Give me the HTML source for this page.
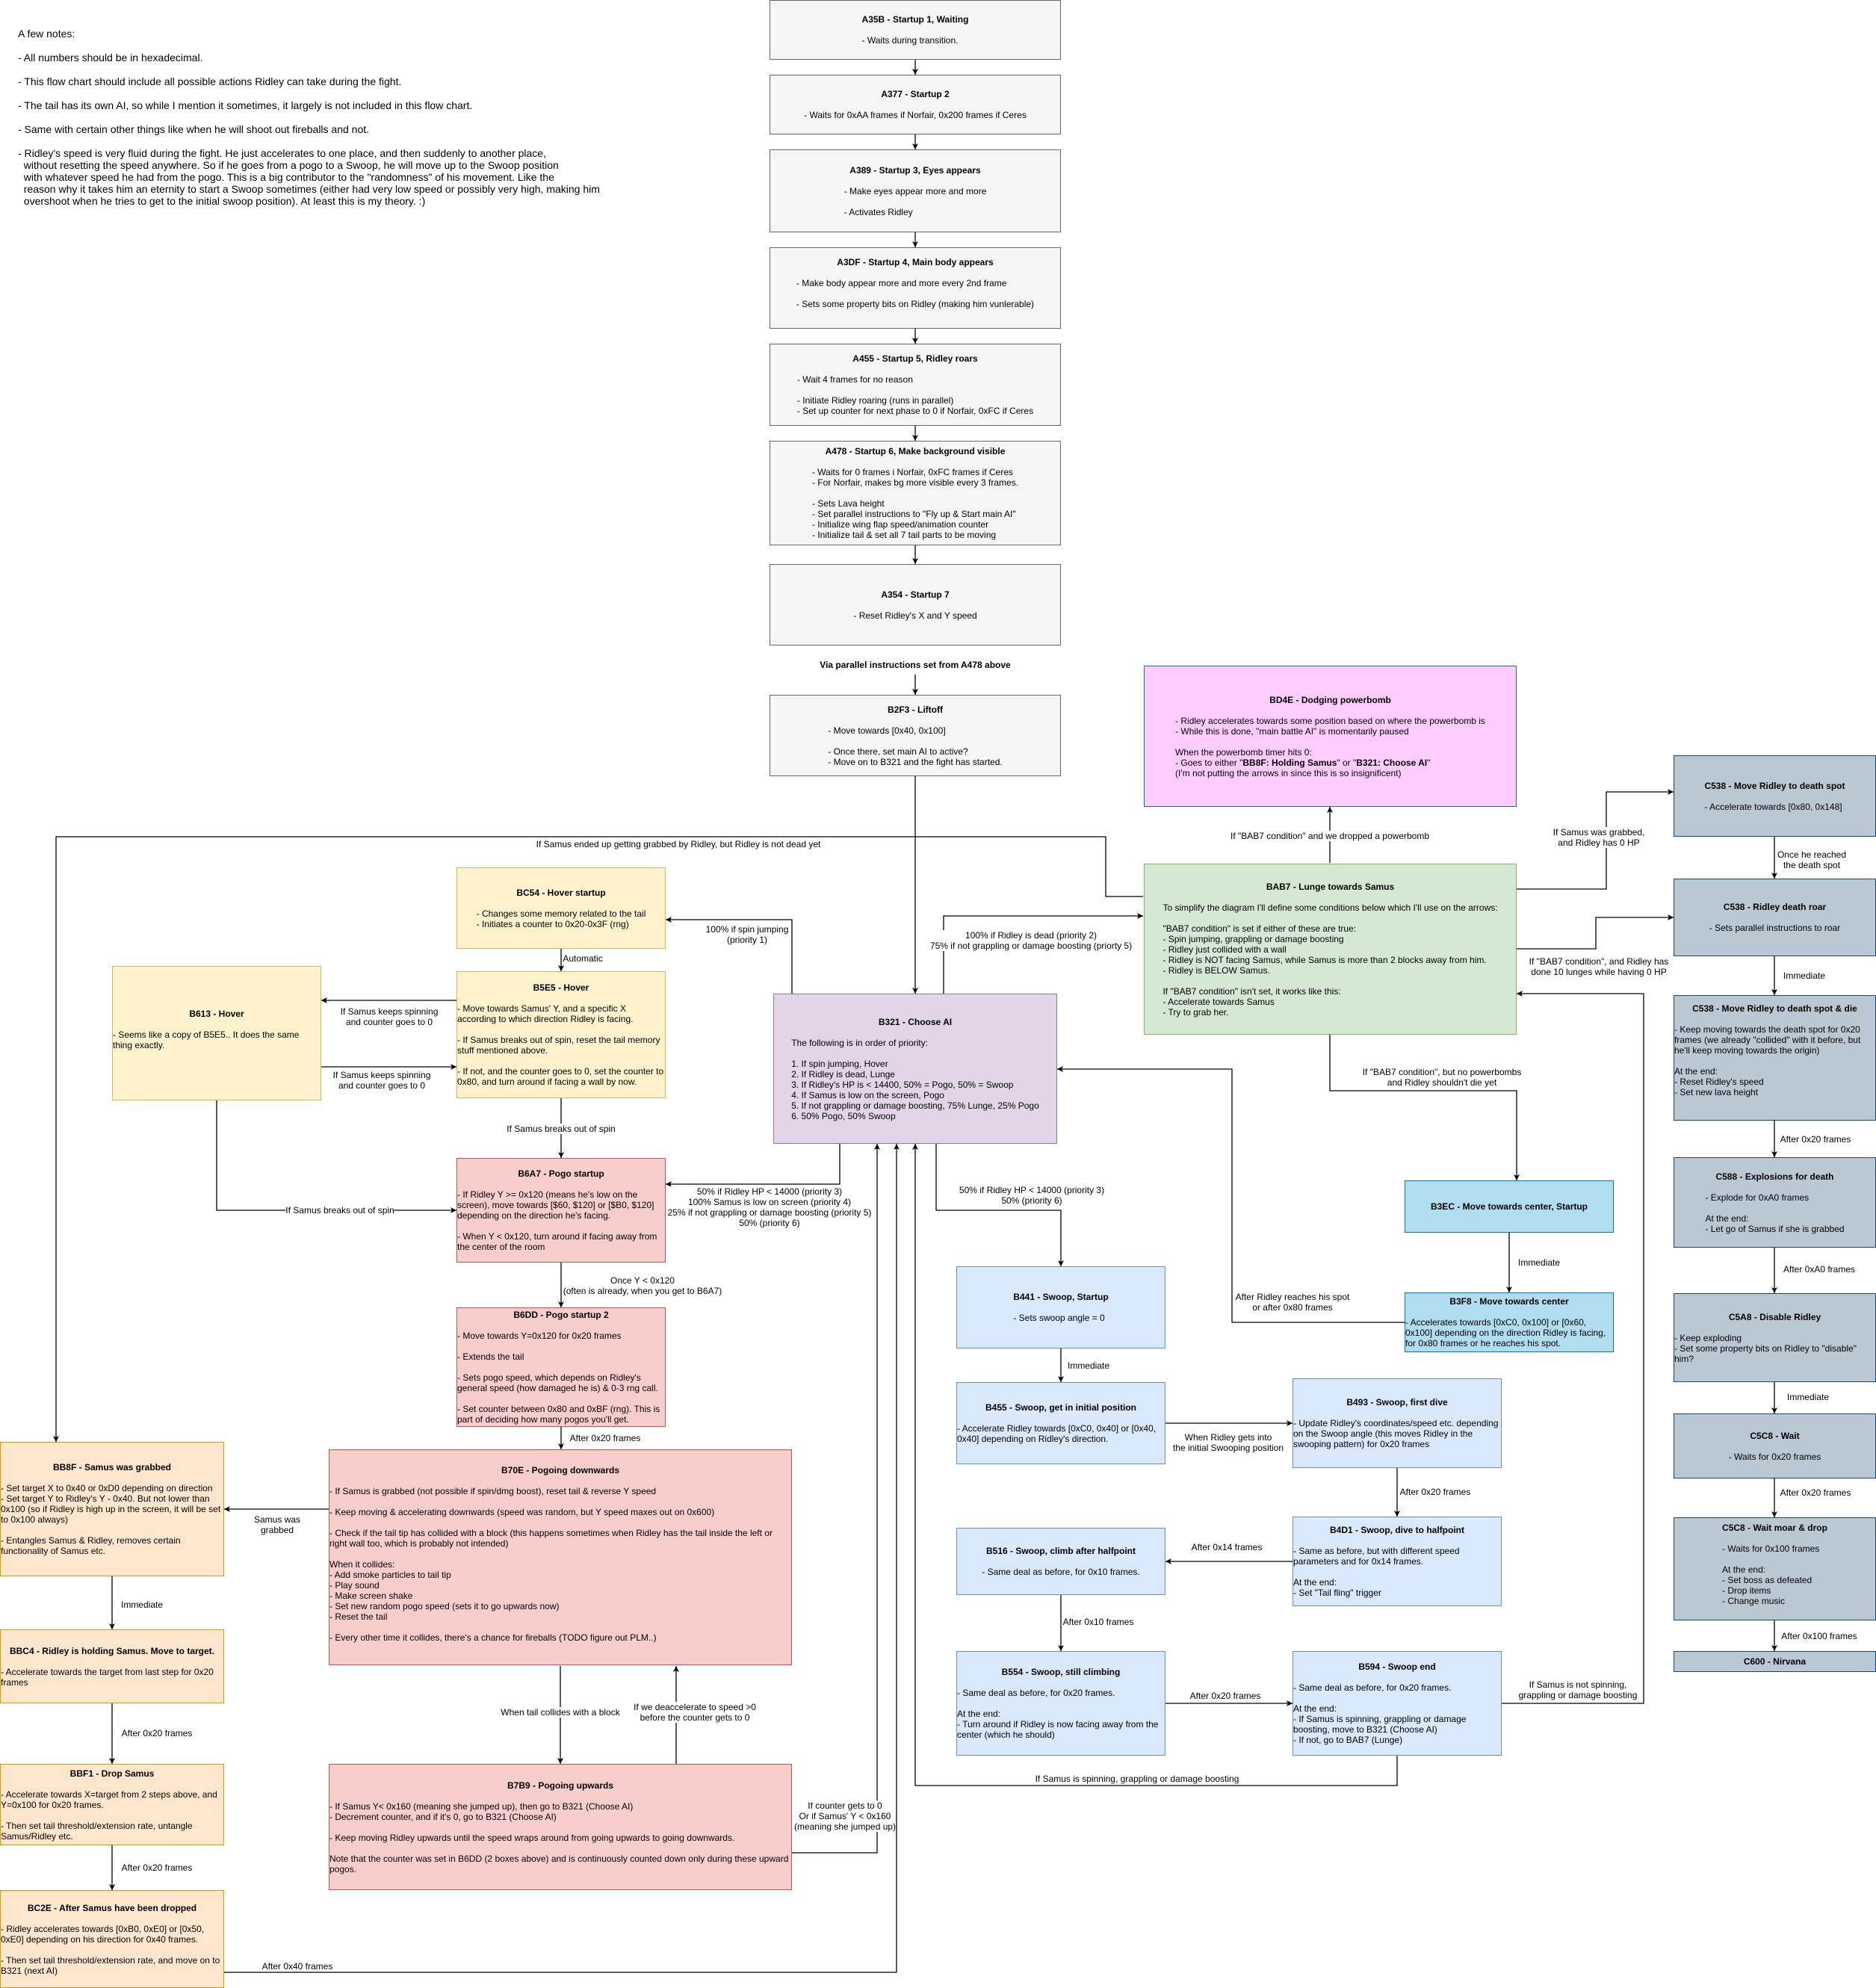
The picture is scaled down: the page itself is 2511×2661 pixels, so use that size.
<!DOCTYPE html>
<html><head><meta charset="utf-8">
<style>
html,body{margin:0;padding:0;background:#fff;}
body{width:2511px;height:2661px;position:relative;overflow:hidden;font-family:"Liberation Sans",Arial,sans-serif;font-size:12px;line-height:14px;color:#000;}
.b{position:absolute;box-sizing:border-box;border:1px solid #666;display:flex;align-items:center;justify-content:center;overflow:hidden;}
.b>div{display:inline-block;text-align:left;white-space:pre-wrap;max-width:100%;}
.b .t{font-weight:bold;text-align:center;display:block;}
.g{background:#f5f5f5;border-color:#666;}
.y{background:#fff2cc;border-color:#d6b656;}
.r{background:#f8cecc;border-color:#b85450;}
.p{background:#e1d5e7;border-color:#9673a6;}
.gr{background:#d5e8d4;border-color:#82b366;}
.bl{background:#dae8fc;border-color:#6c8ebf;}
.pk{background:#ffccff;border-color:#10739e;}
.cy{background:#b1ddf0;border-color:#10739e;}
.sl{background:#bac8d3;border-color:#23445d;}
.o{background:#ffe6cc;border-color:#d79b00;}
.l{position:absolute;transform:translate(-50%,-50%);background:#fff;white-space:pre;text-align:center;font-size:12px;line-height:14px;}
svg{position:absolute;left:0;top:0;}
</style></head><body>
<svg width="2511" height="2661" viewBox="0 0 2511 2661">
<defs><marker id="a" markerWidth="10" markerHeight="10" refX="9" refY="5" orient="auto" markerUnits="userSpaceOnUse"><path d="M1,1 L9,5 L1,9 L3,5 z" fill="#000"/></marker></defs>
<g fill="none" stroke="#000" stroke-width="1.3" marker-end="url(#a)">
<path d="M1225,80V100"/><path d="M1225,180V200"/><path d="M1225,311V331"/><path d="M1225,440V460"/><path d="M1225,570V590"/><path d="M1225,730V755"/><path d="M1225,903V930"/>
<path d="M1225,1039V1330"/>
<path d="M1530,1200H1480V1120H75V1930"/>
<path d="M1263,1330V1226H1530"/>
<path d="M1060,1330V1231H891"/>
<path d="M751,1270V1300"/>
<path d="M611,1339H430"/>
<path d="M430,1428H611"/>
<path d="M751,1470V1550"/>
<path d="M290,1473V1620H611"/>
<path d="M1124,1531V1585H891"/>
<path d="M751,1690V1750"/>
<path d="M751,1910V1940"/>
<path d="M440,2020H300"/>
<path d="M150,2110V2181"/><path d="M150,2280V2361"/><path d="M150,2470V2530"/>
<path d="M300,2640H1200V1531"/>
<path d="M750,2230V2361"/>
<path d="M905,2361V2230"/>
<path d="M1060,2480H1174V1531"/>
<path d="M1253,1531V1620H1420V1695"/>
<path d="M1420,1805V1850"/>
<path d="M1560,1905H1730"/>
<path d="M1870,1965V2030"/>
<path d="M1730,2090H1560"/>
<path d="M1420,2135V2210"/>
<path d="M1560,2280H1730"/>
<path d="M1870,2350V2390H1225V1531"/>
<path d="M2010,2280H2200V1330H2030"/>
<path d="M1780,1155V1080"/>
<path d="M2030,1190H2150V1060H2240"/>
<path d="M2030,1270H2136V1228H2240"/>
<path d="M1780,1385V1460H2030V1580"/>
<path d="M2020,1650V1730"/>
<path d="M1880,1770H1649V1431H1415"/>
<path d="M2375,1120V1176"/><path d="M2375,1280V1332"/><path d="M2375,1500V1549"/><path d="M2375,1670V1731"/><path d="M2375,1850V1892"/><path d="M2375,1979V2031"/><path d="M2375,2169V2210"/>
</g></svg>

<div style="position:absolute;left:24px;top:37px;font-size:14px;line-height:16px;white-space:pre;">A few notes:

- All numbers should be in hexadecimal.

- This flow chart should include all possible actions Ridley can take during the fight.

- The tail has its own AI, so while I mention it sometimes, it largely is not included in this flow chart.

- Same with certain other things like when he will shoot out fireballs and not.

- Ridley's speed is very fluid during the fight. He just accelerates to one place, and then suddenly to another place,
  without resetting the speed anywhere. So if he goes from a pogo to a Swoop, he will move up to the Swoop position
  with whatever speed he had from the pogo. This is a big contributor to the "randomness" of his movement. Like the
  reason why it takes him an eternity to start a Swoop sometimes (either had very low speed or possibly very high, making him
  overshoot when he tries to get to the initial swoop position). At least this is my theory. :)</div>

<div class="b g" style="left:1030px;top:0;width:390px;height:80px;"><div><span class="t">A35B - Startup 1, Waiting</span>
- Waits during transition.</div></div>
<div class="b g" style="left:1030px;top:100px;width:390px;height:80px;"><div><span class="t">A377 - Startup 2</span>
- Waits for 0xAA frames if Norfair, 0x200 frames if Ceres</div></div>
<div class="b g" style="left:1030px;top:200px;width:390px;height:111px;"><div><span class="t">A389 - Startup 3, Eyes appears</span>
- Make eyes appear more and more

- Activates Ridley</div></div>
<div class="b g" style="left:1030px;top:331px;width:390px;height:109px;padding-bottom:14px;"><div><span class="t">A3DF - Startup 4, Main body appears</span>
- Make body appear more and more every 2nd frame

- Sets some property bits on Ridley (making him vunlerable)</div></div>
<div class="b g" style="left:1030px;top:460px;width:390px;height:110px;"><div><span class="t">A455 - Startup 5, Ridley roars</span>
- Wait 4 frames for no reason

- Initiate Ridley roaring (runs in parallel)
- Set up counter for next phase to 0 if Norfair, 0xFC if Ceres</div></div>
<div class="b g" style="left:1030px;top:590px;width:390px;height:140px;"><div><span class="t">A478 - Startup 6, Make background visible</span>
- Waits for 0 frames i Norfair, 0xFC frames if Ceres
- For Norfair, makes bg more visible every 3 frames.

- Sets Lava height
- Set parallel instructions to "Fly up &amp; Start main AI"
- Initialize wing flap speed/animation counter
- Initialize tail &amp; set all 7 tail parts to be moving</div></div>
<div class="b g" style="left:1030px;top:755px;width:390px;height:109px;"><div><span class="t">A354 - Startup 7</span>
- Reset Ridley's X and Y speed</div></div>
<div class="l" style="left:1225px;top:890px;font-weight:bold;">Via parallel instructions set from A478 above</div>
<div class="b g" style="left:1030px;top:930px;width:390px;height:109px;"><div><span class="t">B2F3 - Liftoff</span>
- Move towards [0x40, 0x100]

- Once there, set main AI to active?
- Move on to B321 and the fight has started.</div></div>

<div class="b pk" style="left:1531px;top:891px;width:499px;height:189px;"><div><span class="t">BD4E - Dodging powerbomb</span>
- Ridley accelerates towards some position based on where the powerbomb is
- While this is done, "main battle AI" is momentarily paused

When the powerbomb timer hits 0:
- Goes to either "<b>BB8F: Holding Samus</b>" or "<b>B321: Choose AI</b>"
(I'm not putting the arrows in since this is so insignificent)</div></div>
<div class="b gr" style="left:1531px;top:1156px;width:499px;height:229px;"><div><span class="t">BAB7 - Lunge towards Samus</span>
To simplify the diagram I'll define some conditions below which I'll use on the arrows:

"BAB7 condition" is set if either of these are true:
- Spin jumping, grappling or damage boosting
- Ridley just collided with a wall
- Ridley is NOT facing Samus, while Samus is more than 2 blocks away from him.
- Ridley is BELOW Samus.

If "BAB7 condition" isn't set, it works like this:
- Accelerate towards Samus
- Try to grab her.</div></div>

<div class="b sl" style="left:2240px;top:1011px;width:271px;height:109px;"><div><span class="t">C538 - Move Ridley to death spot</span>
- Accelerate towards [0x80, 0x148]</div></div>
<div class="b sl" style="left:2240px;top:1176px;width:271px;height:104px;"><div><span class="t">C538 - Ridley death roar</span>
- Sets parallel instructions to roar</div></div>
<div class="b sl" style="left:2240px;top:1332px;width:271px;height:168px;align-items:flex-start;padding-top:10px;"><div><span class="t">C538 - Move Ridley to death spot &amp; die</span>
- Keep moving towards the death spot for 0x20 frames (we already "collided" with it before, but he'll keep moving towards the origin)

At the end:
- Reset Ridley's speed
- Set new lava height</div></div>
<div class="b sl" style="left:2240px;top:1549px;width:271px;height:121px;"><div><span class="t">C588 - Explosions for death</span>
- Explode for 0xA0 frames

At the end:
- Let go of Samus if she is grabbed</div></div>
<div class="b sl" style="left:2240px;top:1731px;width:271px;height:119px;"><div><span class="t">C5A8 - Disable Ridley</span>
- Keep exploding
- Set some property bits on Ridley to "disable" him?</div></div>
<div class="b sl" style="left:2240px;top:1892px;width:271px;height:87px;"><div><span class="t">C5C8 - Wait</span>
- Waits for 0x20 frames</div></div>
<div class="b sl" style="left:2240px;top:2031px;width:271px;height:138px;align-items:flex-start;padding-top:6px;"><div><span class="t">C5C8 - Wait moar &amp; drop</span>
- Waits for 0x100 frames

At the end:
- Set boss as defeated
- Drop items
- Change music</div></div>
<div class="b sl" style="left:2240px;top:2210px;width:271px;height:28px;"><div><span class="t">C600 - Nirvana</span></div></div>

<div class="b p" style="left:1035px;top:1330px;width:380px;height:201px;"><div><span class="t">B321 - Choose AI</span>
The following is in order of priority:

1. If spin jumping, Hover
2. If Ridley is dead, Lunge
3. If Ridley's HP is &lt; 14400, 50% = Pogo, 50% = Swoop
4. If Samus is low on the screen, Pogo
5. If not grappling or damage boosting, 75% Lunge, 25% Pogo
6. 50% Pogo, 50% Swoop</div></div>

<div class="b y" style="left:611px;top:1161px;width:280px;height:109px;"><div><span class="t">BC54 - Hover startup</span>
- Changes some memory related to the tail
- Initiates a counter to 0x20-0x3F (rng)</div></div>
<div class="b y" style="left:611px;top:1300px;width:280px;height:170px;"><div><span class="t">B5E5 - Hover</span>
- Move towards Samus' Y, and a specific X according to which direction Ridley is facing.

- If Samus breaks out of spin, reset the tail memory stuff mentioned above.

- If not, and the counter goes to 0, set the counter to 0x80, and turn around if facing a wall by now.</div></div>
<div class="b y" style="left:150px;top:1293px;width:280px;height:180px;padding-bottom:10px;"><div><span class="t">B613 - Hover</span>
- Seems like a copy of B5E5.. It does the same thing exactly.</div></div>
<div class="b r" style="left:611px;top:1550px;width:280px;height:140px;"><div><span class="t">B6A7 - Pogo startup</span>
- If Ridley Y &gt;= 0x120 (means he's low on the screen), move towards [$60, $120] or [$B0, $120] depending on the direction he's facing.

- When Y &lt; 0x120, turn around if facing away from the center of the room</div></div>
<div class="b r" style="left:611px;top:1750px;width:280px;height:160px;"><div><span class="t">B6DD - Pogo startup 2</span>
- Move towards Y=0x120 for 0x20 frames

- Extends the tail

- Sets pogo speed, which depends on Ridley's general speed (how damaged he is) &amp; 0-3 rng call.

- Set counter between 0x80 and 0xBF (rng). This is part of deciding how many pogos you'll get.</div></div>
<div class="b r" style="left:440px;top:1940px;width:620px;height:289px;padding-bottom:10px;"><div><span class="t">B70E - Pogoing downwards</span>
- If Samus is grabbed (not possible if spin/dmg boost), reset tail &amp; reverse Y speed

- Keep moving &amp; accelerating downwards (speed was random, but Y speed maxes out on 0x600)

- Check if the tail tip has collided with a block (this happens sometimes when Ridley has the tail inside the left or right wall too, which is probably not intended)

When it collides:
- Add smoke particles to tail tip
- Play sound
- Make screen shake
- Set new random pogo speed (sets it to go upwards now)
- Reset the tail

- Every other time it collides, there's a chance for fireballs (TODO figure out PLM..)</div></div>
<div class="b r" style="left:440px;top:2361px;width:620px;height:169px;"><div><span class="t">B7B9 - Pogoing upwards</span>
- If Samus Y&lt; 0x160 (meaning she jumped up), then go to B321 (Choose AI)
- Decrement counter, and if it's 0, go to B321 (Choose AI)

- Keep moving Ridley upwards until the speed wraps around from going upwards to going downwards.

Note that the counter was set in B6DD (2 boxes above) and is continuously counted down only during these upward pogos.</div></div>

<div class="b o" style="left:0;top:1930px;width:300px;height:180px;"><div><span class="t">BB8F - Samus was grabbed</span>
- Set target X to 0x40 or 0xD0 depending on direction
- Set target Y to Ridley's Y - 0x40. But not lower than 0x100 (so if Ridley is high up in the screen, it will be set to 0x100 always)

- Entangles Samus &amp; Ridley, removes certain functionality of Samus etc.</div></div>
<div class="b o" style="left:0;top:2181px;width:300px;height:99px;"><div><span class="t">BBC4 - Ridley is holding Samus. Move to target.</span>
- Accelerate towards the target from last step for 0x20 frames</div></div>
<div class="b o" style="left:0;top:2361px;width:300px;height:109px;"><div><span class="t">BBF1 - Drop Samus</span>
- Accelerate towards X=target from 2 steps above, and Y=0x100 for 0x20 frames.

- Then set tail threshold/extension rate, untangle Samus/Ridley etc.</div></div>
<div class="b o" style="left:0;top:2530px;width:300px;height:131px;"><div><span class="t">BC2E - After Samus have been dropped</span>
- Ridley accelerates towards [0xB0, 0xE0] or [0x50, 0xE0] depending on his direction for 0x40 frames.

- Then set tail threshold/extension rate, and move on to B321 (next AI)</div></div>

<div class="b bl" style="left:1280px;top:1695px;width:280px;height:110px;"><div><span class="t">B441 - Swoop, Startup</span>
- Sets swoop angle = 0</div></div>
<div class="b bl" style="left:1280px;top:1850px;width:280px;height:110px;"><div><span class="t">B455 - Swoop, get in initial position</span>
- Accelerate Ridley towards [0xC0, 0x40] or [0x40, 0x40] depending on Ridley's direction.</div></div>
<div class="b bl" style="left:1730px;top:1845px;width:280px;height:120px;"><div><span class="t">B493 - Swoop, first dive</span>
- Update Ridley's coordinates/speed etc. depending on the Swoop angle (this moves Ridley in the swooping pattern) for 0x20 frames</div></div>
<div class="b bl" style="left:1730px;top:2030px;width:280px;height:120px;"><div><span class="t">B4D1 - Swoop, dive to halfpoint</span>
- Same as before, but with different speed parameters and for 0x14 frames.

At the end:
- Set "Tail fling" trigger</div></div>
<div class="b bl" style="left:1280px;top:2045px;width:280px;height:90px;"><div><span class="t">B516 - Swoop, climb after halfpoint</span>
- Same deal as before, for 0x10 frames.</div></div>
<div class="b bl" style="left:1280px;top:2210px;width:280px;height:140px;"><div><span class="t">B554 - Swoop, still climbing</span>
- Same deal as before, for 0x20 frames.

At the end:
- Turn around if Ridley is now facing away from the center (which he should)</div></div>
<div class="b bl" style="left:1730px;top:2210px;width:280px;height:140px;"><div><span class="t">B594 - Swoop end</span>
- Same deal as before, for 0x20 frames.

At the end:
- If Samus is spinning, grappling or damage boosting, move to B321 (Choose AI)
- If not, go to BAB7 (Lunge)</div></div>
<div class="b cy" style="left:1880px;top:1580px;width:280px;height:70px;"><div><span class="t">B3EC - Move towards center, Startup</span></div></div>
<div class="b cy" style="left:1880px;top:1730px;width:280px;height:80px;"><div><span class="t">B3F8 - Move towards center</span>
- Accelerates towards [0xC0, 0x100] or [0x60, 0x100] depending on the direction Ridley is facing, for 0x80 frames or he reaches his spot.</div></div>

<div class="l" style="left:908px;top:1130px;">If Samus ended up getting grabbed by Ridley, but Ridley is not dead yet</div>
<div class="l" style="left:1380px;top:1259px;">100% if Ridley is dead (priority 2)
75% if not grappling or damage boosting (priorty 5)</div>
<div class="l" style="left:1000px;top:1251px;">100% if spin jumping
(priority 1)</div>
<div class="l" style="left:780px;top:1283px;background:none;">Automatic</div>
<div class="l" style="left:521px;top:1361px;">If Samus keeps spinning
and counter goes to 0</div>
<div class="l" style="left:511px;top:1446px;">If Samus keeps spinning
and counter goes to 0</div>
<div class="l" style="left:751px;top:1511px;">If Samus breaks out of spin</div>
<div class="l" style="left:455px;top:1620px;">If Samus breaks out of spin</div>
<div class="l" style="left:1030px;top:1616px;">50% if Ridley HP &lt; 14000 (priority 3)
100% Samus is low on screen (priority 4)
25% if not grappling or damage boosting (priority 5)
50% (priority 6)</div>
<div class="l" style="left:860px;top:1721px;">Once Y &lt; 0x120
(often is already, when you get to B6A7)</div>
<div class="l" style="left:810px;top:1925px;">After 0x20 frames</div>
<div class="l" style="left:371px;top:2041px;">Samus was
grabbed</div>
<div class="l" style="left:190px;top:2148px;">Immediate</div>
<div class="l" style="left:210px;top:2320px;">After 0x20 frames</div>
<div class="l" style="left:210px;top:2500px;">After 0x20 frames</div>
<div class="l" style="left:398px;top:2632px;">After 0x40 frames</div>
<div class="l" style="left:750px;top:2292px;">When tail collides with a block</div>
<div class="l" style="left:930px;top:2292px;">If we deaccelerate to speed &gt;0
before the counter gets to 0</div>
<div class="l" style="left:1131px;top:2431px;">If counter gets to 0
Or if Samus' Y &lt; 0x160
(meaning she jumped up)</div>
<div class="l" style="left:1381px;top:1600px;">50% if Ridley HP &lt; 14000 (priority 3)
50% (priority 6)</div>
<div class="l" style="left:1457px;top:1828px;">Immediate</div>
<div class="l" style="left:1644px;top:1931px;">When Ridley gets into
the initial Swooping position</div>
<div class="l" style="left:1921px;top:1997px;">After 0x20 frames</div>
<div class="l" style="left:1642px;top:2071px;">After 0x14 frames</div>
<div class="l" style="left:1470px;top:2171px;">After 0x10 frames</div>
<div class="l" style="left:1640px;top:2270px;">After 0x20 frames</div>
<div class="l" style="left:1522px;top:2381px;">If Samus is spinning, grappling or damage boosting</div>
<div class="l" style="left:2112px;top:2262px;">If Samus is not spinning,
grappling or damage boosting</div>
<div class="l" style="left:1780px;top:1119px;">If "BAB7 condition" and we dropped a powerbomb</div>
<div class="l" style="left:2140px;top:1121px;">If Samus was grabbed,
and Ridley has 0 HP</div>
<div class="l" style="left:2140px;top:1294px;">If "BAB7 condition", and Ridley has
done 10 lunges while having 0 HP</div>
<div class="l" style="left:1930px;top:1442px;">If "BAB7 condition", but no powerbombs
and Ridley shouldn't die yet</div>
<div class="l" style="left:2060px;top:1690px;">Immediate</div>
<div class="l" style="left:1730px;top:1743px;">After Ridley reaches his spot
or after 0x80 frames</div>
<div class="l" style="left:2425px;top:1151px;">Once he reached
the death spot</div>
<div class="l" style="left:2415px;top:1306px;">Immediate</div>
<div class="l" style="left:2430px;top:1525px;">After 0x20 frames</div>
<div class="l" style="left:2435px;top:1699px;">After 0xA0 frames</div>
<div class="l" style="left:2420px;top:1870px;">Immediate</div>
<div class="l" style="left:2430px;top:1998px;">After 0x20 frames</div>
<div class="l" style="left:2435px;top:2190px;">After 0x100 frames</div>
</body></html>
